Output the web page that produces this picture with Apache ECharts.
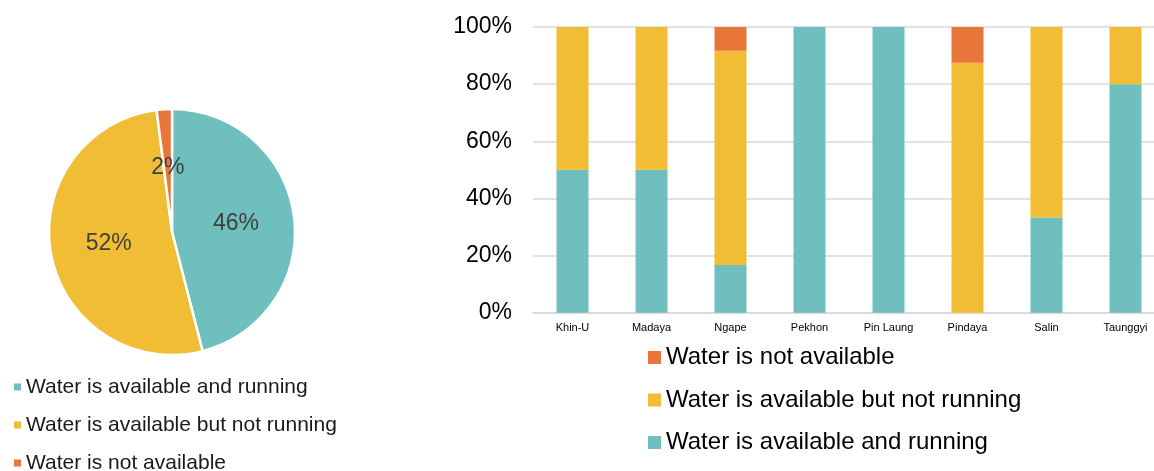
<!DOCTYPE html>
<html>
<head>
<meta charset="utf-8">
<style>
  html, body { margin: 0; padding: 0; background: #fff; overflow: hidden; }
  #chart { width: 1172px; height: 471px; }
</style>
<script src="https://cdn.jsdelivr.net/npm/echarts@6/dist/echarts.min.js"></script>
</head>
<body>
<div id="chart"></div>
<script>
// Water status overall (pie) and by township (stacked 100% bars)
const statusNames = [
  'Water is available and running',
  'Water is available but not running',
  'Water is not available'
];
const statusColors = ['#6fbfbf', '#f0bd35', '#e87539'];

// Overall share, percent
const overallShare = [46, 52, 2];

// Townships
const townships = ['Khin-U', 'Madaya', 'Ngape', 'Pekhon', 'Pin Laung', 'Pindaya', 'Salin', 'Taunggyi'];
// Share of facilities by status in each township, percent
const runningShare      = [50, 50, 16.7, 100, 100, 0,    33.3, 80];
const notRunningShare   = [50, 50, 75,   0,   0,   87.5, 66.7, 20];
const notAvailableShare = [0,  0,  8.3,  0,   0,   12.5, 0,    0];

const yTicks = { min: 0, max: 100, interval: 20 };

const FONT = '"Liberation Sans", Arial, sans-serif';
const chart = echarts.init(document.getElementById('chart'));

const barSeries = [runningShare, notRunningShare, notAvailableShare].map((vals, i) => ({
  name: statusNames[i],
  type: 'bar',
  stack: 'share',
  barWidth: 32,
  data: vals,
  itemStyle: { color: statusColors[i] },
  emphasis: { disabled: true }
}));

chart.setOption({
  animation: false,
  textStyle: { fontFamily: FONT },
  grid: { left: 533, top: 27, width: 632, height: 285.7, containLabel: false },
  xAxis: {
    type: 'category',
    data: townships,
    axisTick: { show: false },
    axisLine: { show: true, lineStyle: { color: '#d9d9d9', width: 1.5 } },
    axisLabel: { color: '#000', fontSize: 11, margin: 10, interval: 0, fontFamily: FONT }
  },
  yAxis: {
    type: 'value',
    min: yTicks.min,
    max: yTicks.max,
    interval: yTicks.interval,
    axisLine: { show: false },
    axisTick: { show: false },
    splitLine: { lineStyle: { color: '#d9d9d9', width: 1.5 } },
    axisLabel: { formatter: '{value}%', color: '#000', fontSize: 23, margin: 21, fontFamily: FONT }
  },
  legend: [
    {
      orient: 'vertical',
      left: 14,
      top: 376.5,
      height: 130,
      padding: 0,
      itemWidth: 7,
      itemHeight: 7,
      itemGap: 17,
      icon: 'rect',
      selectedMode: false,
      data: statusNames.slice(),
      textStyle: { color: '#1a1a1a', fontSize: 21, lineHeight: 21, fontFamily: FONT }
    },
    {
      orient: 'vertical',
      left: 648,
      top: 345.5,
      height: 130,
      padding: 0,
      itemWidth: 13,
      itemHeight: 13,
      itemGap: 18.5,
      icon: 'rect',
      selectedMode: false,
      data: statusNames.slice().reverse(),
      textStyle: { color: '#000', fontSize: 24, lineHeight: 24, fontFamily: FONT }
    }
  ],
  series: [
    {
      name: 'Overall',
      type: 'pie',
      center: [172, 232],
      radius: 123,
      startAngle: 90,
      clockwise: true,
      avoidLabelOverlap: false,
      label: {
        position: 'inside',
        formatter: '{c}%',
        color: '#404040',
        fontSize: 23,
        fontFamily: FONT
      },
      labelLine: { show: false },
      itemStyle: { borderColor: '#fff', borderWidth: 2.5 },
      emphasis: { disabled: true },
      data: statusNames.map((n, i) => ({ name: n, value: overallShare[i], itemStyle: { color: statusColors[i] } }))
    },
    ...barSeries
  ]
});
</script>
</body>
</html>
